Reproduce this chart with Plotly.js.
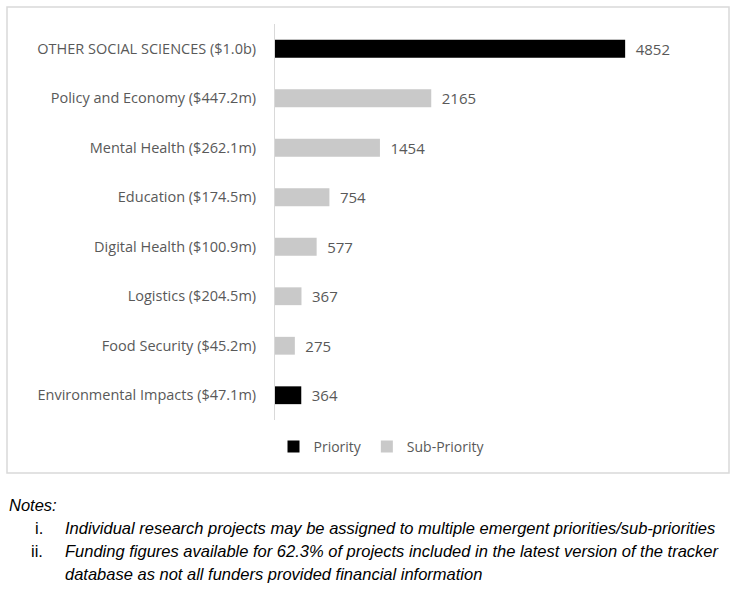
<!DOCTYPE html>
<html>
<head>
<meta charset="utf-8">
<script src="https://cdn.plot.ly/plotly-3.0.1.min.js"></script>
<style>
  html, body { margin: 0; padding: 0; background: #fff; }
  #chart { width: 737px; height: 590px; }
</style>
</head>
<body>
<div id="chart"></div>
<script>
const categories = [
    'OTHER SOCIAL SCIENCES ($1.0b)',
    'Policy and Economy ($447.2m)',
    'Mental Health ($262.1m)',
    'Education ($174.5m)',
    'Digital Health ($100.9m)',
    'Logistics ($204.5m)',
    'Food Security ($45.2m)',
    'Environmental Impacts ($47.1m)'
];
const projects = [4852, 2165, 1454, 754, 577, 367, 275, 364];
const isPriority = [true, false, false, false, false, false, false, true];

const notes = [
    'Individual research projects may be assigned to multiple emergent priorities/sub-priorities',
    'Funding figures available for 62.3% of projects included in the latest version of the tracker',
    'database as not all funders provided financial information'
];
const numerals = ['i.', 'ii.', ''];

const textColor = '#595959';
const font = 'Open Sans, Liberation Sans, sans-serif';
const noteFont = 'Liberation Sans, sans-serif';

function pick(flag) {
    const ys = [], xs = [];
    categories.forEach((c, i) => {
        if (isPriority[i] === flag) { ys.push(c); xs.push(projects[i]); }
    });
    return { ys, xs };
}

const pri = pick(true);
const sub = pick(false);

function barTrace(name, d, color) {
    return {
        type: 'bar', orientation: 'h', name: name,
        y: d.ys, x: d.xs,
        text: d.xs.map(v => '\u2002' + v), textposition: 'outside', cliponaxis: false,
        constraintext: 'none',
        textfont: { family: font, size: 15, color: textColor },
        marker: { color: color }
    };
}

const traces = [
    barTrace('Priority', pri, '#000000'),
    barTrace('Sub-Priority', sub, '#c9c9c9')
];

// Chart frame drawn around the plot in paper coordinates
const W = 737, H = 590, L = 275, R = 29, T = 24, B = 170;
const pw = W - L - R, ph = H - T - B;
const px = x => (x - L) / pw;
const py = y => (H - B - y) / ph;

const annotations = [
    { text: 'Notes:', x: px(7), y: py(505), xanchor: 'left', yanchor: 'middle', italic: true }
];
notes.forEach((n, i) => {
    const y = py(528 + i * 23);
    if (numerals[i]) {
        annotations.push({ text: numerals[i], x: px(45), y: y, xanchor: 'right', yanchor: 'middle', italic: false });
    }
    annotations.push({ text: n, x: px(63), y: y, xanchor: 'left', yanchor: 'middle', italic: true });
});
annotations.forEach(a => {
    a.xref = 'paper'; a.yref = 'paper'; a.showarrow = false;
    a.font = { family: noteFont, size: 16.5, color: '#000', style: a.italic ? 'italic' : 'normal' };
    delete a.italic;
});

const layout = {
    width: W, height: H,
    margin: { l: L, r: R, t: T, b: B },
    paper_bgcolor: '#fff', plot_bgcolor: '#fff',
    barmode: 'overlay', bargap: 0.64,
    showlegend: true,
    legend: {
        orientation: 'h', x: px(382), y: py(447), xanchor: 'center', yanchor: 'middle',
        font: { family: font, size: 14, color: textColor },
        itemwidth: 30, traceorder: 'normal'
    },
    xaxis: { range: [0, 6000], visible: false, fixedrange: true },
    yaxis: {
        categoryorder: 'array', categoryarray: categories, autorange: 'reversed',
        showline: true, linecolor: '#d9d9d9', linewidth: 1,
        showgrid: false, zeroline: false,
        ticks: 'outside', ticklen: 15, tickcolor: 'rgba(0,0,0,0)',
        tickfont: { family: font, size: 14.5, color: textColor }
    },
    shapes: [{
        type: 'rect', xref: 'paper', yref: 'paper',
        x0: px(7), x1: px(729), y0: py(473), y1: py(7),
        line: { color: '#d9d9d9', width: 1.5 }, fillcolor: 'rgba(0,0,0,0)', layer: 'below'
    }],
    annotations: annotations
};

Plotly.newPlot('chart', traces, layout, { displayModeBar: false, staticPlot: true });
</script>
</body>
</html>
